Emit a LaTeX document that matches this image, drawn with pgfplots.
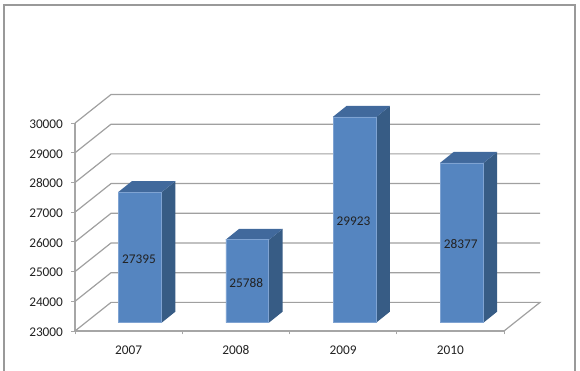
\documentclass[border=0pt]{standalone}
\usepackage{fontspec}
\setmainfont{Carlito}
\usepackage{pgfplots}
\pgfplotsset{compat=1.18}
\definecolor{barfront}{HTML}{5585C0}
\definecolor{barside}{HTML}{375C85}
\definecolor{bartop}{HTML}{41699C}
\definecolor{baredge}{HTML}{7FA3D2}
\definecolor{gridc}{HTML}{A0A0A0}
\definecolor{axisc}{HTML}{A6A6A6}
\definecolor{framec}{HTML}{999999}
\definecolor{textc}{HTML}{222222}
\begin{document}
\begin{tikzpicture}[x=1pt,y=1pt]
\path[use as bounding box] (-75,-40) rectangle (505,331);
\draw[framec,line width=1.4pt] (-71,-40) -- (-71,326) -- (500,326) -- (500,-40);
\begin{axis}[
  scale only axis, width=429pt, height=207.9pt,
  xmin=0, xmax=4, ymin=23000, ymax=30000,
  clip=false,
  axis lines*=left,
  axis line style={axisc,line width=1.2pt,-},
  xtick={0,1,2,3,4}, xticklabels={},
  extra x ticks={0.5,1.5,2.5,3.5},
  extra x tick labels={2007,2008,2009,2010},
  extra x tick style={tick style={draw=none}, tick label style={yshift=-7pt,text height=9pt,text depth=0pt}},
  ytick={23000,24000,...,30000},
  scaled y ticks=false,
  yticklabel={\pgfmathprintnumber[fixed,1000 sep={},assume math mode=true]{\tick}},
  tick style={axisc,line width=0.9pt},
  tick align=outside,
  major tick length=3.5pt,
  tick label style={font=\fontsize{13.3}{15}\selectfont, text=textc},
  yticklabel style={xshift=-5pt,yshift=-1pt},
  bar width=0.397,
  face/.style={draw=none,xshift=11.4pt,yshift=8.4pt},
]
% back wall and left wall grid lines
\addplot[gridc,line width=1.2pt] coordinates {(0,23000)(0.3357,23963)(4.3357,23963)(4,23000)};
\addplot[gridc,line width=1.2pt] coordinates {(0,24000)(0.3357,24963)(4.3357,24963)};
\addplot[gridc,line width=1.2pt] coordinates {(0,25000)(0.3357,25963)(4.3357,25963)};
\addplot[gridc,line width=1.2pt] coordinates {(0,26000)(0.3357,26963)(4.3357,26963)};
\addplot[gridc,line width=1.2pt] coordinates {(0,27000)(0.3357,27963)(4.3357,27963)};
\addplot[gridc,line width=1.2pt] coordinates {(0,28000)(0.3357,28963)(4.3357,28963)};
\addplot[gridc,line width=1.2pt] coordinates {(0,29000)(0.3357,29963)(4.3357,29963)};
\addplot[gridc,line width=1.2pt] coordinates {(0,30000)(0.3357,30963)(4.3357,30963)};
% side faces
\addplot[fill=barside,face] coordinates {(0.7028,23000)(0.8305,23370)(0.8305,27765)(0.7028,27395)} -- cycle;
\addplot[fill=barside,face] coordinates {(1.7028,23000)(1.8305,23370)(1.8305,26158)(1.7028,25788)} -- cycle;
\addplot[fill=barside,face] coordinates {(2.7028,23000)(2.8305,23370)(2.8305,30293)(2.7028,29923)} -- cycle;
\addplot[fill=barside,face] coordinates {(3.7028,23000)(3.8305,23370)(3.8305,28747)(3.7028,28377)} -- cycle;
% top faces
\addplot[fill=bartop,face] coordinates {(0.2972,27395)(0.4249,27765)(0.8305,27765)(0.7028,27395)} -- cycle;
\addplot[fill=bartop,face] coordinates {(1.2972,25788)(1.4249,26158)(1.8305,26158)(1.7028,25788)} -- cycle;
\addplot[fill=bartop,face] coordinates {(2.2972,29923)(2.4249,30293)(2.8305,30293)(2.7028,29923)} -- cycle;
\addplot[fill=bartop,face] coordinates {(3.2972,28377)(3.4249,28747)(3.8305,28747)(3.7028,28377)} -- cycle;
% front faces
\addplot[ybar,fill=barfront,face,draw=baredge,line width=0.6pt] coordinates {(0.5,27395)(1.5,25788)(2.5,29923)(3.5,28377)};
% value labels, centred on the front faces
\addplot[draw=none,mark=none,
  nodes near coords, point meta=explicit symbolic,
  nodes near coords style={anchor=center,inner sep=0pt,text=textc,text height=9pt,text depth=0pt,font=\fontsize{13.3}{15}\selectfont}]
  table[meta=v] {
x y v
0.597 25430 27395
1.597 24625 25788
2.597 26690 29923
3.597 25920 28377
};
\end{axis}
\end{tikzpicture}
\end{document}
